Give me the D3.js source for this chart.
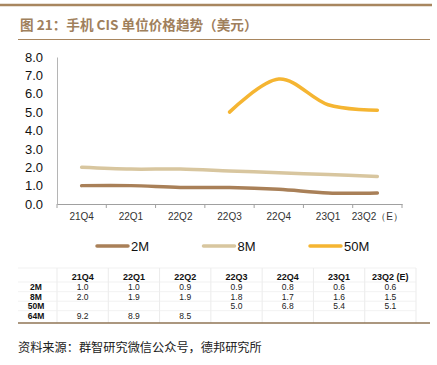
<!DOCTYPE html>
<html>
<head>
<meta charset="utf-8">
<script src="https://cdn.jsdelivr.net/npm/d3@7"></script>
<style>
  body { margin: 0; background: #fff; }
  svg { display: block; }
</style>
</head>
<body>
<script>
"use strict";

// data
const quarters = ["21Q4", "22Q1", "22Q2", "22Q3", "22Q4", "23Q1", "23Q2（E）"];
const tableQuarters = ["21Q4", "22Q1", "22Q2", "22Q3", "22Q4", "23Q1", "23Q2  (E)"];
const price2M = [1.0, 1.0, 0.9, 0.9, 0.8, 0.6, 0.6];
const price8M = [2.0, 1.9, 1.9, 1.8, 1.7, 1.6, 1.5];
const price50M = [null, null, null, 5.0, 6.8, 5.4, 5.1];
const price64M = [9.2, 8.9, 8.5, null, null, null, null];
const yTicks = [0, 1, 2, 3, 4, 5, 6, 7, 8];

const chartSeries = [
    { name: "2M", values: price2M, color: "#a98058" },
    { name: "8M", values: price8M, color: "#d8c69f" },
    { name: "50M", values: price50M, color: "#f5b532" }
];
const tableRows = [
    { name: "2M", values: price2M },
    { name: "8M", values: price8M },
    { name: "50M", values: price50M },
    { name: "64M", values: price64M }
];

const W = 437, H = 365;
let svg = d3.select("body").append("svg").attr("width", W).attr("height", H);

// header rules + title
svg.append("line").attr("x1", 0).attr("x2", 432).attr("y1", 5).attr("y2", 5)
    .attr("stroke", "#a8865f").attr("stroke-width", 2.5);
svg.append("text").attr("x", 20).attr("y", 30)
    .attr("font-family", "'Noto Sans CJK SC', sans-serif").attr("font-weight", "bold")
    .attr("font-size", 13.6).attr("fill", "#a0805c")
    .text("图 21：手机 CIS 单位价格趋势（美元）");
svg.append("line").attr("x1", 18).attr("x2", 430).attr("y1", 39.5).attr("y2", 39.5)
    .attr("stroke", "#a8865f").attr("stroke-width", 1.2);

// scales
let x = d3.scaleBand().domain(quarters).range([57, 402]);
let y = d3.scaleLinear().domain([0, 8]).range([204, 57]);

// y axis
let yAxis = svg.append("g").attr("transform", "translate(57,0)")
    .call(d3.axisLeft(y).tickValues(yTicks).tickFormat(d3.format(".1f")).tickSize(0).tickPadding(14));
yAxis.select(".domain").attr("stroke", "#b5b5b5");
yAxis.selectAll("text").attr("font-family", "'Liberation Sans', Arial, sans-serif")
    .attr("font-size", 13).attr("fill", "#111");

// x axis
let xAxis = svg.append("g").attr("transform", "translate(0,204)")
    .call(d3.axisBottom(x).tickSize(0).tickPadding(9));
xAxis.select(".domain").attr("stroke", "#a0a0a0");
xAxis.selectAll("text").attr("font-family", "'Liberation Sans', Arial, sans-serif")
    .attr("font-size", 10).attr("fill", "#333");
// boundary ticks
svg.append("g").selectAll("line")
    .data(d3.range(quarters.length + 1))
    .enter().append("line")
    .attr("x1", i => 57 + i * x.step()).attr("x2", i => 57 + i * x.step())
    .attr("y1", 204).attr("y2", 208)
    .attr("stroke", "#a0a0a0");

// lines
let line = d3.line()
    .defined(d => d != null)
    .x((d, i) => x(quarters[i]) + x.bandwidth() / 2)
    .y(d => y(d))
    .curve(d3.curveCardinal.tension(0));

svg.append("g").selectAll("path")
    .data(chartSeries)
    .enter().append("path")
    .attr("d", s => line(s.values))
    .attr("fill", "none")
    .attr("stroke", s => s.color)
    .attr("stroke-width", 3.5)
    .attr("stroke-linecap", "round");

// legend
let legend = svg.append("g").selectAll("g")
    .data(chartSeries)
    .enter().append("g")
    .attr("transform", (s, i) => `translate(${97 + i * 106.5},246)`);
legend.append("line").attr("x1", 0).attr("x2", 31)
    .attr("stroke", s => s.color).attr("stroke-width", 3.5).attr("stroke-linecap", "round");
legend.append("text").attr("x", 34).attr("y", 5)
    .attr("font-family", "'Liberation Sans', Arial, sans-serif").attr("font-size", 13)
    .attr("fill", "#111").text(s => s.name);

// table
const colX = d3.scaleBand().domain(tableQuarters).range([57, 416]);
const rowY = [276.5, 287, 296.5, 306, 315.5];
let table = svg.append("g").attr("font-family", "'Liberation Sans', Arial, sans-serif")
    .attr("font-size", 8.5).attr("xml:space", "preserve");

// faint grid
table.selectAll("line.v")
    .data(d3.range(tableQuarters.length + 1))
    .enter().append("line")
    .attr("x1", i => 57 + i * colX.step()).attr("x2", i => 57 + i * colX.step())
    .attr("y1", 268).attr("y2", 323)
    .attr("stroke", "#e6e6e6").attr("stroke-width", 0.8);
table.selectAll("line.h")
    .data([268, 282, 291.7, 301.2, 310.7])
    .enter().append("line")
    .attr("x1", 18).attr("x2", 416)
    .attr("y1", d => d).attr("y2", d => d)
    .attr("stroke", "#eeeeee").attr("stroke-width", 0.8);

table.selectAll("text.head")
    .data(tableQuarters)
    .enter().append("text")
    .attr("x", d => colX(d) + colX.bandwidth() / 2).attr("y", rowY[0] + 3.2)
    .attr("text-anchor", "middle").attr("font-weight", "bold").attr("fill", "#111")
    .attr("font-size", 9)
    .text(d => d);

let rows = table.selectAll("g.row")
    .data(tableRows)
    .enter().append("g")
    .attr("transform", (r, i) => `translate(0,${rowY[i + 1] + 3})`);
rows.append("text").attr("x", 36).attr("text-anchor", "middle")
    .attr("font-weight", "bold").attr("fill", "#111").text(r => r.name);
rows.selectAll("text.v")
    .data(r => r.values.map((v, i) => ({ v, q: tableQuarters[i] })).filter(d => d.v != null))
    .enter().append("text")
    .attr("x", d => colX(d.q) + colX.bandwidth() / 2)
    .attr("text-anchor", "middle").attr("fill", "#222")
    .text(d => d3.format(".1f")(d.v));

svg.append("line").attr("x1", 18).attr("x2", 430).attr("y1", 323).attr("y2", 323)
    .attr("stroke", "#8f7555").attr("stroke-width", 1.5);

// source
svg.append("text").attr("x", 18).attr("y", 352)
    .attr("font-family", "'Noto Sans CJK SC', sans-serif").attr("font-size", 12.2)
    .attr("fill", "#222")
    .text("资料来源：群智研究微信公众号，德邦研究所");
</script>
</body>
</html>
